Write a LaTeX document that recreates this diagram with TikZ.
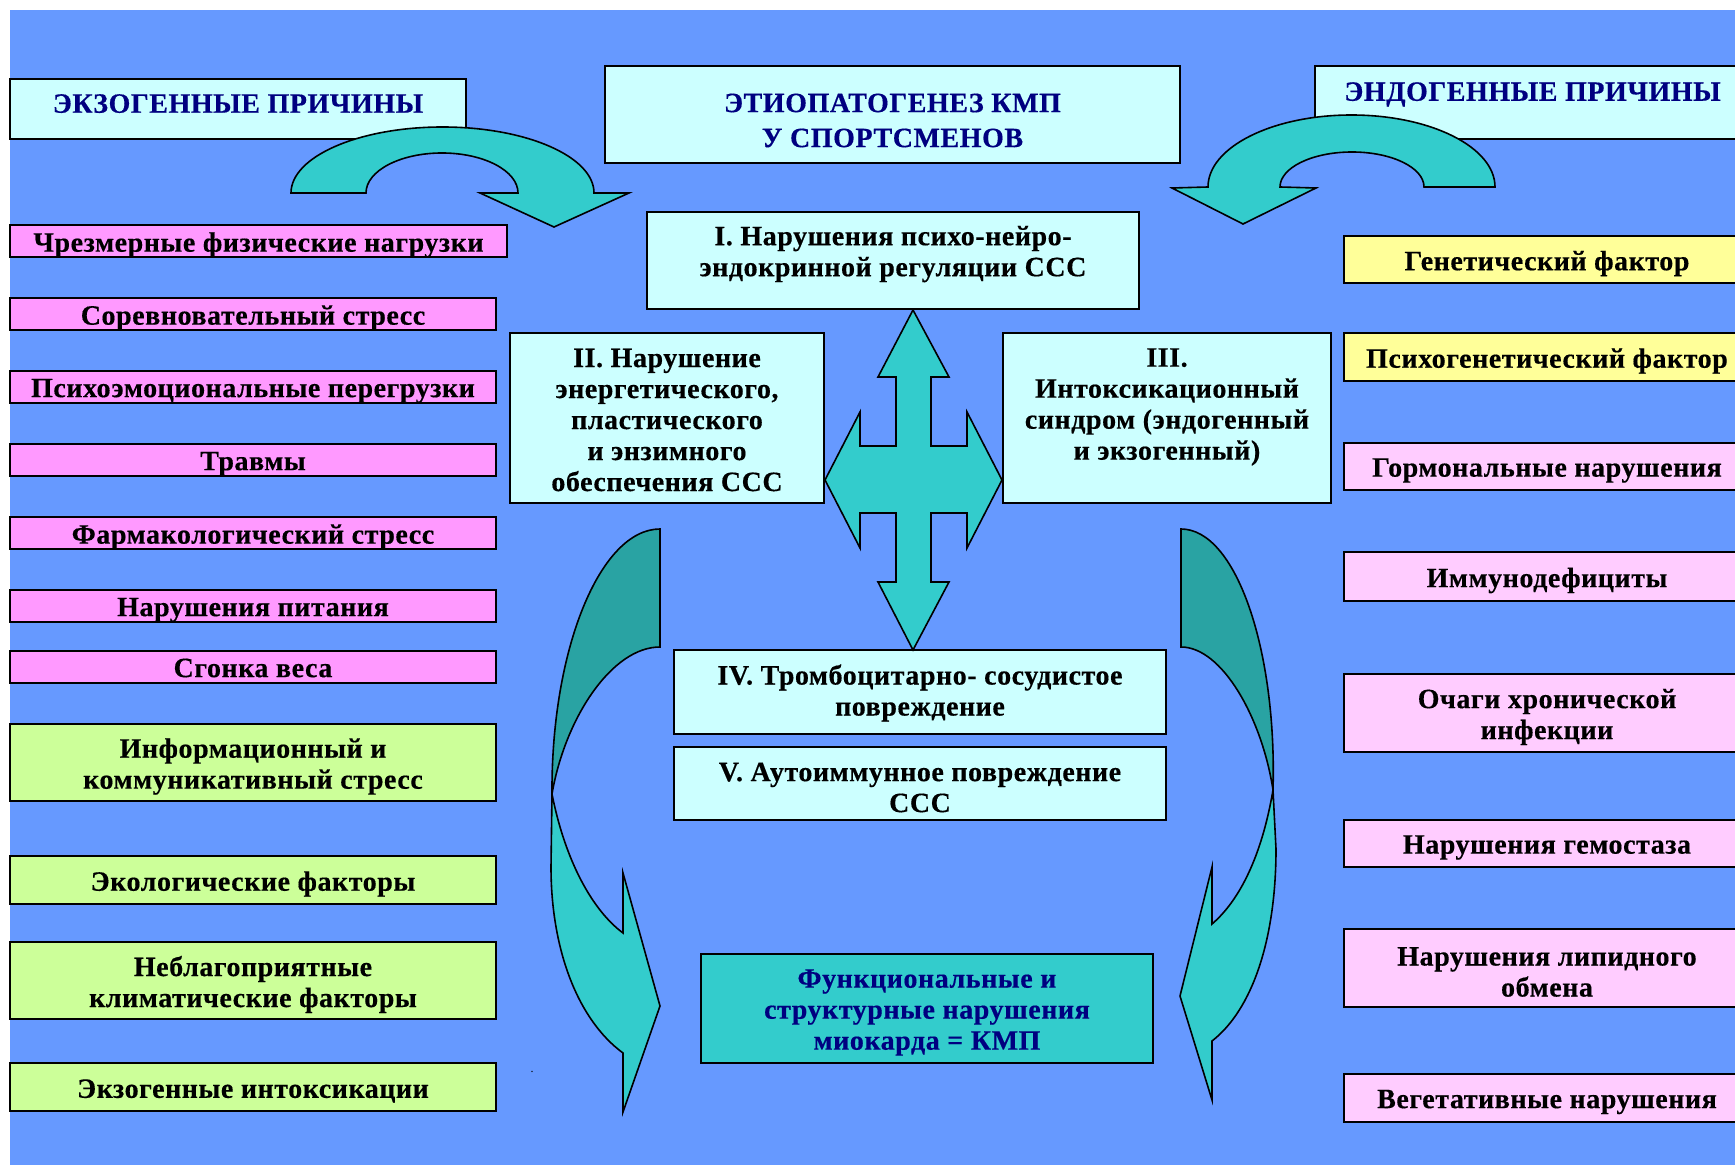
\documentclass[tikz,border=0pt]{standalone}
\usepackage{fontspec}
\setmainfont{Liberation Serif}[LetterSpace=2, BoldFeatures={FakeBold=0.4}]
\usetikzlibrary{fit}
\definecolor{bg}{HTML}{6699FF}
\definecolor{cyanbox}{HTML}{CCFFFF}
\definecolor{pinkbox}{HTML}{FF99FF}
\definecolor{greenbox}{HTML}{CCFF99}
\definecolor{yellowbox}{HTML}{FFFF99}
\definecolor{lpink}{HTML}{FFCCFF}
\definecolor{tealA}{HTML}{33CCCC}
\definecolor{tealB}{HTML}{29A3A3}
\definecolor{navy}{HTML}{000080}
\newcommand{\bx}[8][-2pt]{%
  \node[boxst, fill=#3, fit={(#4,#5) (#6,#7)}] (#2) {};
  \node[txt] (#2t) at ([yshift=#1]#2.center) {#8};}
\begin{document}
\begin{tikzpicture}[x=0.5pt,y=-0.5pt,
  boxst/.style={draw=black, line width=0.8pt, inner sep=0pt},
  txt/.style={align=center, inner sep=0pt, font=\bfseries\fontsize{14}{15.5}\selectfont},
  ttl/.style={align=center, inner sep=0pt, text=navy, font=\bfseries\fontsize{14}{15.5}\selectfont},
  arr/.style={draw=black, line width=0.8pt, line join=miter}]
\useasboundingbox (0,0) rectangle (1735,1165);
\clip (0,0) rectangle (1735,1165);
\fill[white] (0,0) rectangle (1735,1165);
\fill[bg] (10,10) rectangle (1745,1175);

% title boxes
\node[boxst, fill=cyanbox, fit={(10,79) (466,139)}] (exo) {};
\node[ttl] (exot) at ([yshift=2.7pt]exo.center) {ЭКЗОГЕННЫЕ ПРИЧИНЫ};
\node[boxst, fill=cyanbox, fit={(605,66) (1180,163)}] (main) {};
\node[ttl] (maint) at ([yshift=-3pt]main.center) {ЭТИОПАТОГЕНЕЗ КМП\\[2pt]У СПОРТСМЕНОВ};
\node[boxst, fill=cyanbox, fit={(1315,66) (1750,139)}] (endo) {};
\node[ttl] (endot) at ([yshift=4pt]endo.center) {ЭНДОГЕННЫЕ ПРИЧИНЫ};

% top curved arrows
\draw[arr, fill=tealA] (291,193) arc[start angle=180,end angle=0,x radius=75.75pt,y radius=33pt]
  -- (629,193) -- (554,227) -- (480,193) -- (518,193)
  arc[start angle=0,end angle=180,x radius=38pt,y radius=20pt] -- cycle;
\draw[arr, fill=tealA] (1495,187) arc[start angle=0,end angle=180,x radius=71.75pt,y radius=36pt]
  -- (1172,188) -- (1243,224) -- (1316,188) -- (1280,187)
  arc[start angle=180,end angle=0,x radius=36pt,y radius=17.5pt] -- cycle;

% left column
\bx{p1}{pinkbox}{10}{225}{507}{257}{Чрезмерные физические нагрузки}
\bx{p2}{pinkbox}{10}{298}{496}{330}{Соревновательный стресс}
\bx{p3}{pinkbox}{10}{371}{496}{403}{Психоэмоциональные перегрузки}
\bx{p4}{pinkbox}{10}{444}{496}{476}{Травмы}
\bx{p5}{pinkbox}{10}{517}{496}{549}{Фармакологический стресс}
\bx{p6}{pinkbox}{10}{590}{496}{622}{Нарушения питания}
\bx[-0.5pt]{p7}{pinkbox}{10}{651}{496}{683}{Сгонка веса}
\bx{g1}{greenbox}{10}{724}{496}{801}{Информационный и\\коммуникативный стресс}
\bx{g2}{greenbox}{10}{856}{496}{904}{Экологические факторы}
\bx{g3}{greenbox}{10}{942}{496}{1019}{Неблагоприятные\\климатические факторы}
\bx{g4}{greenbox}{10}{1063}{496}{1111}{Экзогенные интоксикации}

% right column
\bx{r1}{yellowbox}{1344}{236}{1750}{283}{Генетический фактор}
\bx{r2}{yellowbox}{1344}{333}{1750}{381}{Психогенетический фактор}
\bx{r3}{lpink}{1344}{443}{1750}{490}{Гормональные нарушения}
\bx{r4}{lpink}{1344}{552}{1750}{601}{Иммунодефициты}
\bx{r5}{lpink}{1344}{674}{1750}{752}{Очаги хронической\\инфекции}
\bx{r6}{lpink}{1344}{820}{1750}{867}{Нарушения гемостаза}
\bx{r7}{lpink}{1344}{929}{1750}{1007}{Нарушения липидного\\обмена}
\bx{r8}{lpink}{1344}{1074}{1750}{1122}{Вегетативные нарушения}

% centre
\bx[3.2pt]{c1}{cyanbox}{647}{212}{1139}{309}{I. Нарушения психо-нейро-\\эндокринной регуляции ССС}
\bx[-1pt]{c2}{cyanbox}{510}{333}{824}{503}{II. Нарушение\\энергетического,\\пластического\\и энзимного\\обеспечения ССС}
\bx[5.5pt]{c3}{cyanbox}{1003}{333}{1331}{503}{III.\\Интоксикационный\\синдром (эндогенный\\и экзогенный)}
\bx[-0.5pt]{c4}{cyanbox}{674}{650}{1166}{734}{IV. Тромбоцитарно- сосудистое\\повреждение}
\bx[-2pt]{c5}{cyanbox}{674}{747}{1166}{820}{V. Аутоиммунное повреждение\\ССС}
\node[boxst, fill=tealA, fit={(701,954) (1153,1063)}] (fin) {};
\node[ttl] (fint) at ([yshift=-2pt]fin.center) {Функциональные и\\структурные нарушения\\миокарда = КМП};

% cross arrow
\draw[arr, fill=tealA] (913,310) -- (949,377) -- (931,377) -- (931,446) -- (967,446) -- (967,412)
  -- (1002,480) -- (967,548) -- (967,513) -- (931,513) -- (931,582) -- (949,582) -- (913,650)
  -- (878,582) -- (896,582) -- (896,513) -- (860,513) -- (860,548) -- (825,480) -- (860,412)
  -- (860,446) -- (896,446) -- (896,377) -- (878,377) -- cycle;

% left big curved arrow
\draw[arr, fill=tealB] (660,529) .. controls (600,529) and (551,650) .. (552,794)
  .. controls (565,718) and (612,647) .. (660,647) -- cycle;
\draw[arr, fill=tealA] (552,794) .. controls (565,860) and (592,910) .. (623,933)
  -- (623,873) -- (660,1006) -- (623,1112) -- (623,1053)
  .. controls (578,1020) and (551,950) .. (551,867) -- cycle;

% right big curved arrow
\draw[arr, fill=tealB] (1181,529) .. controls (1236,529) and (1277,650) .. (1273,790)
  .. controls (1262,718) and (1222,647) .. (1181,647) -- cycle;
\draw[arr, fill=tealA] (1273,790) .. controls (1262,855) and (1240,900) .. (1212,924)
  -- (1212,867) -- (1180,996) -- (1212,1100) -- (1212,1041)
  .. controls (1252,1010) and (1276,940) .. (1276,849) -- cycle;

\node[inner sep=0pt, font=\fontsize{6}{6}\selectfont] (dot) at (532,1072) {.};
\end{tikzpicture}
\end{document}
